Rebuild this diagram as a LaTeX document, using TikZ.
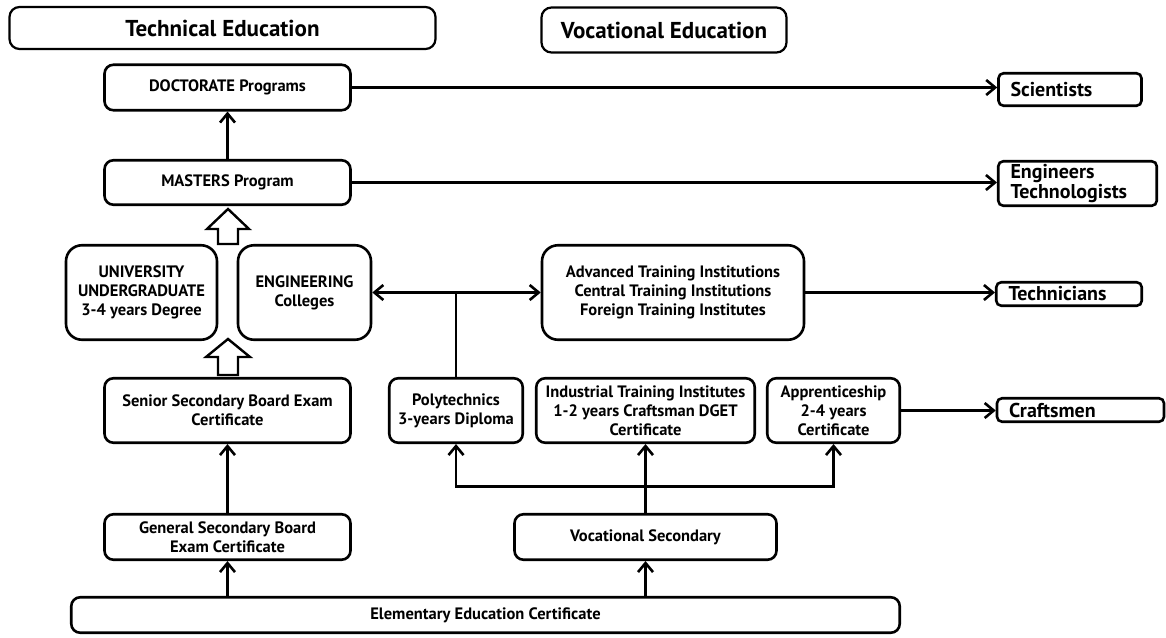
\documentclass[tikz,border=0pt]{standalone}
\usepackage{fontspec}
\setmainfont{PT Sans}
\usetikzlibrary{arrows.meta,calc}

\begin{document}
\begin{tikzpicture}[x=1pt, y=-1pt]
    % Styles
    \tikzstyle{box} = [rectangle, rounded corners=9pt, draw=black, line width=2.6pt, align=center, inner sep=2pt, font=\bfseries\fontsize{16.5}{19}\selectfont]
    \tikzstyle{bigbox} = [box, rounded corners=16pt]
    \tikzstyle{title} = [box, line width=2.2pt, rounded corners=10pt, font=\bfseries\fontsize{23}{26}\selectfont]
    \tikzstyle{result} = [box, rounded corners=5pt, align=left, inner xsep=12pt, font=\bfseries\fontsize{20}{18}\selectfont]
    \tikzstyle{arrow} = [-{Straight Barb[length=9pt,width=15pt]}, line width=2.6pt]
    \tikzstyle{twoway} = [{Straight Barb[length=9pt,width=15pt]}-{Straight Barb[length=9pt,width=15pt]}, line width=2.6pt]
    \tikzstyle{line} = [line width=2.6pt]
    \tikzstyle{hollow} = [line width=2.4pt, fill=white, line join=miter]

    \useasboundingbox (0,0) rectangle (1166,637);

    % Headings
    \node[title, minimum width=426pt, minimum height=42pt] (TE) at (222.5,28) {Technical Education};
    \node[title, minimum width=245pt, minimum height=45pt] (VE) at (664,30) {Vocational Education};

    % Nodes
    \node[box, minimum width=246pt, minimum height=45.5pt] (DOC) at (227.5,87.5) {DOCTORATE Programs};
    \node[box, minimum width=246pt, minimum height=44.5pt] (MAS) at (227.5,182.5) {MASTERS Program};
    \node[bigbox, minimum width=151pt, minimum height=94.5pt] (UNI) at (141.5,292.5) {UNIVERSITY\\UNDERGRADUATE\\3-4 years Degree};
    \node[bigbox, minimum width=133pt, minimum height=94.5pt] (ENC) at (304.5,292.5) {ENGINEERING\\Colleges};
    \node[bigbox, minimum width=262pt, minimum height=94.5pt] (ATI) at (673,292.5) {Advanced Training Institutions\\Central Training Institutions\\Foreign Training Institutes};
    \node[box, minimum width=246pt, minimum height=64.5pt] (SEN) at (227.5,410.5) {Senior Secondary Board Exam\\Certificate};
    \node[box, minimum width=133.5pt, minimum height=64.5pt] (POL) at (456,410.5) {Polytechnics\\3-years Diploma};
    \node[box, minimum width=218.5pt, minimum height=64.5pt] (ITI) at (645.5,410.5) {Industrial Training Institutes\\1-2 years Craftsman DGET\\Certificate};
    \node[box, minimum width=132.5pt, minimum height=64.5pt] (APP) at (833.5,410.5) {Apprenticeship\\2-4 years\\Certificate};
    \node[box, minimum width=246pt, minimum height=45.5pt] (GEN) at (227.5,537) {General Secondary Board\\Exam Certificate};
    \node[box, minimum width=262pt, minimum height=45.5pt] (VOS) at (645.5,537) {Vocational Secondary};
    \node[box, minimum width=828.5pt, minimum height=35.5pt] (ELE) at (485.5,615) {Elementary Education Certificate};

    % Outcomes
    \node[result, minimum width=143pt, text width=119pt, minimum height=32.5pt] (SCI) at (1070,89.5) {Scientists};
    \node[result, minimum width=158.5pt, text width=134pt, minimum height=44.5pt] (ENG) at (1077.5,183.5) {Engineers\\Technologists};
    \node[result, minimum width=145.5pt, text width=121pt, minimum height=23.5pt] (TEC) at (1069,294) {Technicians};
    \node[result, minimum width=167pt, text width=143pt, minimum height=23.5pt] (CRA) at (1080.5,410) {Craftsmen};

    % Arrows
    \draw[arrow] (MAS) -- (DOC);
    \draw[arrow] (DOC.east) -- (DOC.east -| SCI.west);
    \draw[arrow] (MAS.east) -- (MAS.east -| ENG.west);
    \draw[twoway] (ENC.east) -- (ATI.west);
    \coordinate (J) at (POL.north |- ENC.east);
    \draw[line] (POL.north) -- (J);
    \draw[arrow] (ATI.east) -- (ATI.east -| TEC.west);
    \draw[arrow] (APP.east) -- (APP.east -| CRA.west);
    \draw[arrow] (GEN) -- (SEN);
    \draw[arrow] (GEN.south |- ELE.north) -- (GEN.south);
    \draw[arrow] (VOS.south |- ELE.north) -- (VOS.south);
    \draw[arrow] (VOS) -- (ITI);
    \coordinate (S) at ($(VOS.north)!0.38!(ITI.south)$);
    \draw[twoway] (POL.south) |- (S) -| (APP.south);

    % Hollow arrows
    \draw[hollow] (218,244) -- (218,229) -- (207,229) -- (228,209) -- (249,229) -- (238,229) -- (238,244) -- cycle;
    \draw[hollow] (218,375) -- (218,357) -- (206,357) -- (228,339) -- (250,357) -- (238,357) -- (238,375) -- cycle;
\end{tikzpicture}
\end{document}
